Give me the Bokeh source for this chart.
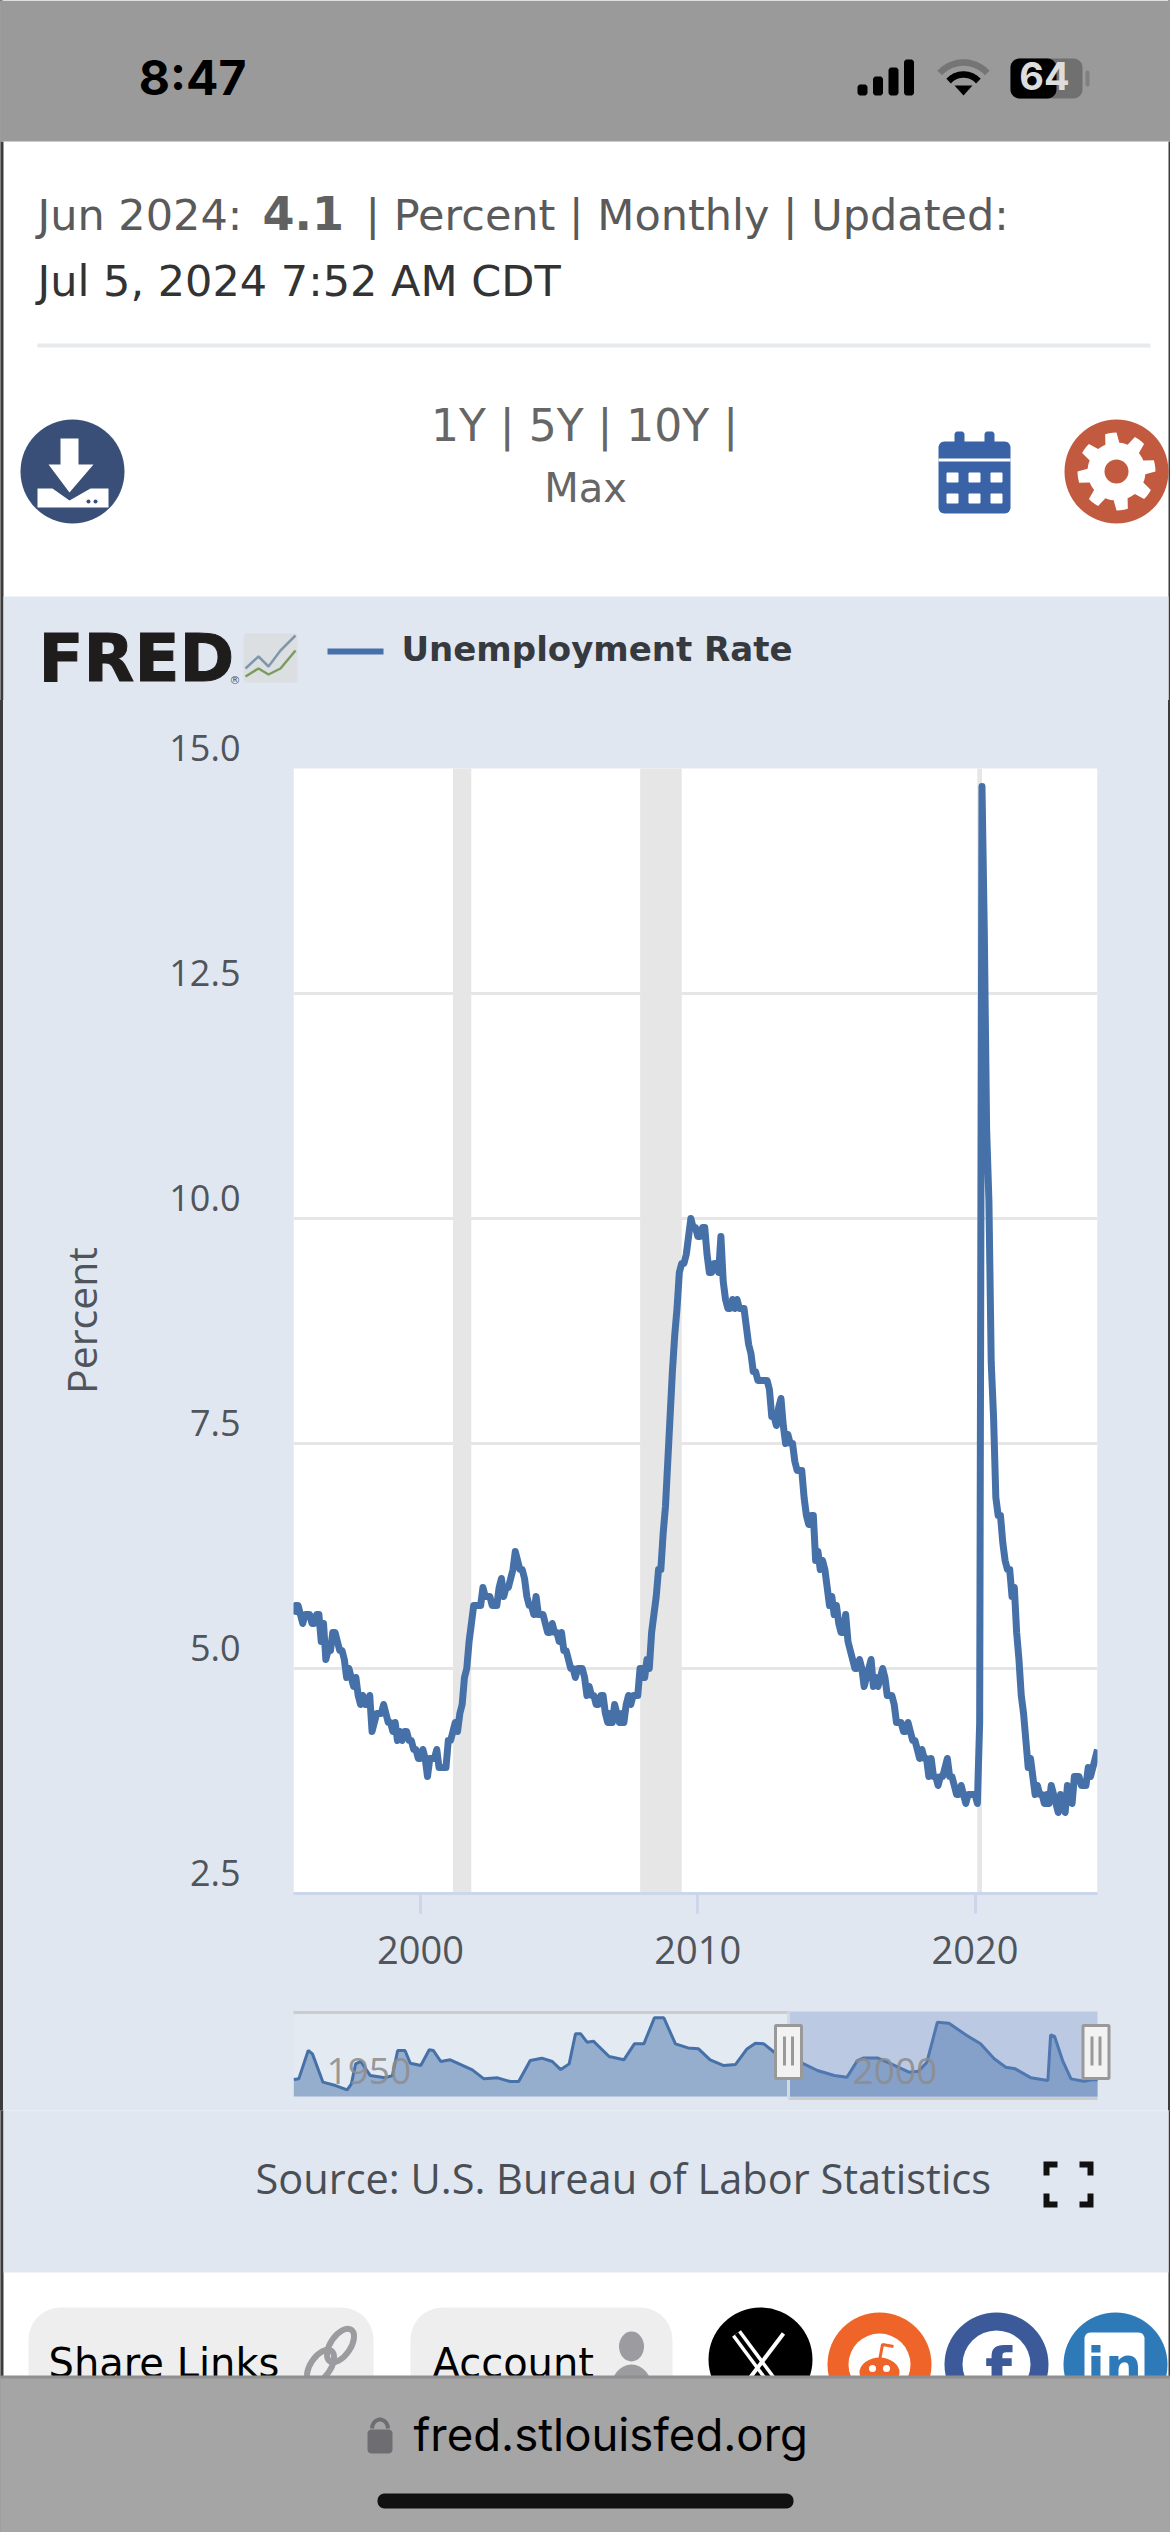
import numpy as np
from bokeh.core.properties import value
from bokeh.embed import file_html
from bokeh.layouts import column
from bokeh.models import FixedTicker, Grid, LinearAxis, NumeralTickFormatter, Range1d
from bokeh.plotting import figure
from bokeh.resources import INLINE

# ---- data ----
start_year = 1995
start_month = 6
unrate = [
    5.6, 5.7, 5.7, 5.6, 5.5, 5.6, 5.6,
    5.6, 5.5, 5.5, 5.6, 5.6, 5.3, 5.5, 5.1, 5.2, 5.2, 5.4, 5.4,
    5.3, 5.2, 5.2, 5.1, 4.9, 5.0, 4.9, 4.8, 4.9, 4.7, 4.6, 4.7,
    4.6, 4.6, 4.7, 4.3, 4.4, 4.5, 4.5, 4.5, 4.6, 4.5, 4.4, 4.4,
    4.3, 4.4, 4.2, 4.3, 4.2, 4.3, 4.3, 4.2, 4.2, 4.1, 4.1, 4.0,
    4.0, 4.1, 4.0, 3.8, 4.0, 4.0, 4.0, 4.1, 3.9, 3.9, 3.9, 3.9,
    4.2, 4.2, 4.3, 4.4, 4.3, 4.5, 4.6, 4.9, 5.0, 5.3, 5.5, 5.7,
    5.7, 5.7, 5.7, 5.9, 5.8, 5.8, 5.8, 5.7, 5.7, 5.7, 5.9, 6.0,
    5.8, 5.9, 5.9, 6.0, 6.1, 6.3, 6.2, 6.1, 6.1, 6.0, 5.8, 5.7,
    5.7, 5.6, 5.8, 5.6, 5.6, 5.6, 5.5, 5.4, 5.4, 5.5, 5.4, 5.4,
    5.3, 5.4, 5.2, 5.2, 5.1, 5.0, 5.0, 4.9, 5.0, 5.0, 5.0, 4.9,
    4.7, 4.8, 4.7, 4.7, 4.6, 4.6, 4.7, 4.7, 4.5, 4.4, 4.5, 4.4,
    4.6, 4.5, 4.4, 4.5, 4.4, 4.6, 4.7, 4.6, 4.7, 4.7, 4.7, 5.0,
    5.0, 4.9, 5.1, 5.0, 5.4, 5.6, 5.8, 6.1, 6.1, 6.5, 6.8, 7.3,
    7.8, 8.3, 8.7, 9.0, 9.4, 9.5, 9.5, 9.6, 9.8, 10.0, 9.9, 9.9,
    9.8, 9.8, 9.9, 9.9, 9.6, 9.4, 9.4, 9.5, 9.5, 9.4, 9.8, 9.3,
    9.1, 9.0, 9.0, 9.1, 9.0, 9.1, 9.0, 9.0, 9.0, 8.8, 8.6, 8.5,
    8.3, 8.3, 8.2, 8.2, 8.2, 8.2, 8.2, 8.1, 7.8, 7.8, 7.7, 7.9,
    8.0, 7.7, 7.5, 7.6, 7.5, 7.5, 7.3, 7.2, 7.2, 7.2, 6.9, 6.7,
    6.6, 6.7, 6.7, 6.2, 6.3, 6.1, 6.2, 6.1, 5.9, 5.7, 5.8, 5.6,
    5.7, 5.5, 5.4, 5.4, 5.6, 5.3, 5.2, 5.1, 5.0, 5.0, 5.1, 5.0,
    4.8, 4.9, 5.0, 5.1, 4.8, 4.9, 4.8, 4.9, 5.0, 4.9, 4.7, 4.7,
    4.7, 4.6, 4.4, 4.4, 4.4, 4.3, 4.3, 4.4, 4.3, 4.2, 4.2, 4.1,
    4.0, 4.1, 4.0, 4.0, 3.8, 4.0, 3.8, 3.8, 3.7, 3.8, 3.8, 3.9,
    4.0, 3.8, 3.8, 3.7, 3.6, 3.6, 3.7, 3.6, 3.5, 3.6, 3.6, 3.6,
    3.6, 3.5, 4.4, 14.8, 13.2, 11.0, 10.2, 8.4, 7.8, 6.9, 6.7, 6.7,
    6.4, 6.2, 6.1, 6.1, 5.8, 5.9, 5.4, 5.1, 4.7, 4.5, 4.2, 3.9,
    4.0, 3.8, 3.6, 3.7, 3.6, 3.6, 3.5, 3.6, 3.5, 3.7, 3.6, 3.5,
    3.4, 3.6, 3.5, 3.4, 3.7, 3.6, 3.5, 3.8, 3.8, 3.8, 3.7, 3.7,
    3.7, 3.9, 3.8, 3.9, 4.0, 4.1,
]
recession_start = [2001.17, 2007.92, 2020.08]
recession_end = [2001.83, 2009.42, 2020.25]
y_ticks = [2.5, 5.0, 7.5, 10.0, 12.5, 15.0]
x_ticks = [2000, 2010, 2020]
y_title = "Percent"

nav_years = [1948.03, 1948.5, 1949.4, 1949.8, 1950.8, 1952.0, 1953.1, 1953.5, 1953.9, 1954.4, 1955.3, 1956.7,
             1957.4, 1957.9, 1958.6, 1959.1, 1960.1, 1960.9, 1961.3, 1962.0, 1962.9, 1965.0, 1966.1, 1967.4,
             1968.6, 1969.4, 1970.5, 1971.6, 1972.6, 1973.4, 1974.2, 1974.8, 1975.3, 1975.9, 1976.5, 1978.0,
             1979.4, 1980.4, 1981.3, 1982.3, 1983.2, 1984.3, 1985.5, 1986.5, 1987.6, 1988.9, 1990.0, 1991.1,
             1991.9, 1992.7, 1993.7, 1996.5, 1997.8, 1999.4, 2000.6, 2001.6, 2002.2, 2003.5, 2004.8, 2006.5,
             2007.4, 2008.2, 2009.2, 2010.3, 2012.0, 2013.3, 2014.6, 2015.7, 2016.6, 2018.1, 2019.7, 2019.96,
             2020.34, 2021.1, 2021.9, 2023.1, 2023.9, 2024.42]
nav_vals = [3.92, 3.99, 7.07, 6.71, 3.63, 3.26, 2.79, 3.45, 5.62, 5.88, 4.35, 4.1,
            4.35, 7.07, 7.07, 5.69, 5.44, 7.15, 7.07, 5.88, 6.06, 4.97, 3.99, 4.1,
            3.7, 3.7, 5.98, 6.24, 5.88, 5.0, 5.62, 8.89, 8.89, 7.98, 8.09, 6.42,
            6.06, 7.8, 7.8, 10.63, 10.63, 7.8, 7.36, 7.26, 6.06, 5.44, 5.55, 7.25,
            7.87, 7.8, 6.89, 5.62, 4.9, 4.35, 4.17, 5.98, 6.27, 6.27, 5.62, 4.72,
            4.82, 5.8, 10.16, 10.05, 8.7, 7.8, 6.17, 5.26, 5.08, 4.1, 3.81, 8.78,
            8.6, 5.98, 3.99, 3.74, 3.88, 3.9]
nav_tick_years = [1950, 2000]

# ---- colours / fonts ----
BLUE_BG = "#e1e7f1"
LINE = "#4671a8"
DJ = "DejaVu Sans"
OS = "Open Sans"
IN = "Inter"
PAGE_W = 1170
EDGE = "#3c3c3c"
EDGE_L, EDGE_R = 3, 2
TEXT_RAISE = 0.37  # Bokeh's text box sits this fraction of the size under the given baseline


def page_fig(top, bottom, bg="white"):
    f = figure(width=PAGE_W, height=bottom - top, x_range=Range1d(0, PAGE_W), y_range=Range1d(bottom, top),
               x_axis_location=None, y_axis_location=None, toolbar_location=None, output_backend="svg",
               background_fill_color=bg, border_fill_color=bg, outline_line_color=None, min_border=0,
               frame_align=False)
    f.grid.visible = False
    return f


def txt(f, x, y, s, size, color, font=DJ, style="normal", align="left", alpha=1.0, **kw):
    f.text(x=[x], y=[y - TEXT_RAISE * size], text=[s], text_font=value(font), text_font_size=f"{size}px",
           text_color=color, text_font_style=style, text_align=align, text_baseline="alphabetic", text_alpha=alpha, **kw)


def rrect(x0, y0, x1, y1, r):
    t = np.linspace(0, np.pi / 2, 8)
    xs = np.concatenate([x1 - r + r * np.sin(t), x1 - r + r * np.cos(t), x0 + r - r * np.sin(t), x0 + r - r * np.cos(t)])
    ys = np.concatenate([y0 + r - r * np.cos(t), y1 - r + r * np.sin(t), y1 - r + r * np.cos(t), y0 + r - r * np.sin(t)])
    return xs, ys


def box(f, x0, y0, x1, y1, color, r=0.0, **kw):
    xs, ys = rrect(x0, y0, x1, y1, r) if r else ([x0, x1, x1, x0], [y0, y0, y1, y1])
    f.patch(xs, ys, fill_color=color, line_color=None, **kw)


def disc(f, x, y, r, color):
    f.circle(x=[x], y=[y], radius=r, fill_color=color, line_color=None)


# ---- header ----
a = page_fig(0, 700)
box(a, 0, 141, EDGE_L, 710, EDGE)
box(a, PAGE_W - EDGE_R, 141, PAGE_W, 710, EDGE)
box(a, 0, 0, PAGE_W, 141, "#9a9a9a")
txt(a, 192, 95, "8:47", 48, "#000000", IN, "bold", "center")
for i, h in enumerate([11, 19, 28, 36]):
    box(a, 857 + i * 15.5, 95 - h, 867 + i * 15.5, 95, "#000000", 3)
# wifi
for rad, col in [(32, "#757575"), (20, "#000000")]:
    t = np.linspace(np.radians(-138), np.radians(-42), 20)
    a.line(963 + rad * np.cos(t), 94 + rad * np.sin(t), line_color=col, line_width=6.5)
a.patch([963, 954, 972], [95, 85, 85], fill_color="#000000", line_color=None)
# battery
box(a, 1010, 58, 1082, 98, "#707070", 9)
box(a, 1010, 58, 1056, 98, "#000000", 9)
box(a, 1085, 70, 1089, 86, "#808080", 2)
txt(a, 1044, 90, "64", 38, "#dddddd", IN, "bold", "center")

txt(a, 37, 230, "Jun 2024:", 43, "#5a5a5a")
txt(a, 262, 230, "4.1", 46, "#616161", DJ, "bold")
txt(a, 365, 230, "| Percent | Monthly | Updated:", 43, "#5a5a5a")
txt(a, 37, 296, "Jul 5, 2024 7:52 AM CDT", 43, "#333333")
box(a, 37, 343, 1150, 347, "#e6eaec")

txt(a, 584, 441, "1Y | 5Y | 10Y |", 44, "#666666", DJ, "normal", "center")
txt(a, 585, 502, "Max", 40, "#666666", DJ, "normal", "center")

# download icon
disc(a, 72, 471, 52, "#3a4f78")
a.patch([60, 78, 78, 93, 69, 48, 60], [438, 438, 464, 464, 492, 464, 464], fill_color="white", line_color=None)
a.patch([37, 52, 69, 90, 108, 108, 37], [488, 488, 500, 488, 488, 507, 507], fill_color="white", line_color=None)
a.circle(x=[88, 95], y=[501, 501], radius=2, fill_color="#3a4f78", line_color=None)

# calendar
box(a, 938, 441, 1010, 513, "#3a62a6", 6)
box(a, 954, 431, 964, 445, "#3a62a6", 3)
box(a, 984, 431, 994, 445, "#3a62a6", 3)
box(a, 938, 458, 1010, 461, "white")
for cx in (952, 974, 996):
    for cy in (477, 498):
        box(a, cx - 6, cy - 5, cx + 6, cy + 5, "white", 1)

# gear
disc(a, 1116, 471, 52, "#c25a3f")
ang = np.linspace(0, 2 * np.pi, 8 * 8, endpoint=False)
rad = np.where((np.floor(ang / (np.pi / 4) + 0.25) * (np.pi / 4) - ang + 2 * np.pi) % (np.pi / 4) < np.pi / 8.5, 39, 29)
a.patch(1116 + rad * np.cos(ang), 471 + rad * np.sin(ang), fill_color="white", line_color=None)
disc(a, 1116, 471, 12, "#c25a3f")

# blue panel with logo + legend
box(a, EDGE_L, 596, PAGE_W - EDGE_R, 710, BLUE_BG)
txt(a, 38, 682, "FRED", 66, "#1f1c1c", DJ, "bold", text_outline_color="#1f1c1c")
txt(a, 229, 684, "®", 11, "#555555", DJ)
box(a, 243, 633, 297, 682, "#dcdfe2", 3)
a.line([245, 258, 268, 280, 295], [668, 656, 666, 650, 635], line_color="#7f97ad", line_width=2.5)
a.line([245, 258, 268, 280, 295], [676, 668, 674, 668, 650], line_color="#7c9c5e", line_width=2.5)
box(a, 327, 648, 383, 654, LINE)
txt(a, 401, 661, "Unemployment Rate", 34, "#36393e", DJ, "bold")

# ---- main chart ----
PX_PER_UNIT = 90.0
lift = 21 / PX_PER_UNIT  # the labels sit 21px above their grid lines
x_vals = [start_year + (start_month - 1 + i) / 12 for i in range(len(unrate))]
x0, x1 = x_vals[0], x_vals[-1]

p = figure(frame_width=804, frame_height=1146, width=PAGE_W - EDGE_L - EDGE_R, height=1285,
           x_range=Range1d(x0, x1), y_range=Range1d(y_ticks[0], y_ticks[-1] + lift),
           x_axis_location="below", y_axis_location=None, toolbar_location=None, output_backend="svg",
           background_fill_color=BLUE_BG, border_fill_color=BLUE_BG, outline_line_color=None,
           min_border_left=293 - EDGE_L, min_border_right=73 - EDGE_R, min_border_top=47, min_border_bottom=92,
           frame_align=False, margin=(0, EDGE_R, 0, EDGE_L))
p.grid.visible = False
p.quad(left=[x0], right=[x1], bottom=[y_ticks[0]], top=[y_ticks[-1]], fill_color="white", line_color=None, level="image")
p.add_layout(Grid(dimension=1, ticker=FixedTicker(ticks=y_ticks[1:5]), grid_line_color="#e6e6e6", grid_line_width=3,
                  level="underlay"))
p.quad(left=recession_start, right=recession_end, bottom=y_ticks[0], top=y_ticks[-1],
       fill_color="#e6e6e6", line_color=None)
p.line(x_vals, unrate, line_color=LINE, line_width=7, line_join="round")

xa = p.xaxis[0]
xa.ticker = FixedTicker(ticks=x_ticks)
xa.major_label_text_font = OS
xa.major_label_text_font_size = "38px"
xa.major_label_text_color = "#50555b"
xa.major_label_standoff = 22
xa.major_tick_out = 20
xa.major_tick_in = 0
xa.minor_tick_line_color = None
xa.major_tick_line_color = "#ccd6eb"
xa.major_tick_line_width = 3
xa.axis_line_color = "#ccd6eb"
xa.axis_line_width = 3

p.extra_y_ranges = {"labels": Range1d(y_ticks[0] - lift, y_ticks[-1])}
ya = LinearAxis(y_range_name="labels", ticker=FixedTicker(ticks=y_ticks), axis_label=y_title)
ya.formatter = NumeralTickFormatter(format="0.0")
ya.major_label_text_font = OS
ya.major_label_text_font_size = "36px"
ya.major_label_text_color = "#50555b"
ya.major_label_standoff = 53
ya.major_tick_in = 0
ya.major_tick_out = 0
ya.minor_tick_line_color = None
ya.major_tick_line_color = None
ya.axis_line_color = None
ya.axis_label_text_font = OS
ya.axis_label_text_font_size = "41px"
ya.axis_label_text_font_style = "normal"
ya.axis_label_text_color = "#50555b"
ya.axis_label_standoff = 57
p.add_layout(ya, "left")

# ---- navigator ----
NAV_TOP, NAV_BOT = 1985, 2110
YEAR_PX = 804 / (x1 - 1948)
VAL_PX = 9.19
px2yr = lambda px: 1948 + (px - 293) / YEAR_PX
py2val = lambda py: 2.07 + (2096 - py) / VAL_PX
n = figure(width=PAGE_W - EDGE_L - EDGE_R, height=NAV_BOT - NAV_TOP, x_range=Range1d(px2yr(EDGE_L), px2yr(PAGE_W - EDGE_R)),
           y_range=Range1d(py2val(NAV_BOT), py2val(NAV_TOP)), x_axis_location=None, y_axis_location=None,
           toolbar_location=None, output_backend="svg", background_fill_color=BLUE_BG, border_fill_color=BLUE_BG,
           outline_line_color=None, min_border=0, frame_align=False, margin=(0, EDGE_R, 0, EDGE_L))
n.grid.visible = False
n_base = py2val(2096)
sel0 = px2yr(788)
n.quad(left=[1948], right=[sel0], bottom=[n_base], top=[py2val(2012)], fill_color="white", fill_alpha=0.12, line_color=None)
n.varea(x=nav_years, y1=[n_base] * len(nav_years), y2=nav_vals, fill_color=LINE, fill_alpha=0.5)
n.line(nav_years, nav_vals, line_color=LINE, line_width=3)
n.quad(left=[sel0], right=[x1], bottom=[py2val(2098)], top=[py2val(2011)], fill_color="#6685c2", fill_alpha=0.3,
       line_color=None)
n.line([1948, sel0], [py2val(2012)] * 2, line_color="#cccccc", line_width=3)
n.line([sel0, x1], [py2val(2098)] * 2, line_color="#cccccc", line_width=3)
n.line([sel0, sel0], [py2val(2012), py2val(2098)], line_color="#d5d9e0", line_width=3)
n.text(x=nav_tick_years, y=[py2val(2070)] * 2, text=[str(v) for v in nav_tick_years], x_offset=12,
       text_font=value(OS), text_font_size="37px", text_color="#8d8d8d", text_alpha=0.9, text_baseline="alphabetic")
for cx in (788, 1095.5):
    n.quad(left=[px2yr(cx - 13)], right=[px2yr(cx + 13)], bottom=[py2val(2078)], top=[py2val(2025)],
           fill_color="#f2f2f2", line_color="#999999", line_width=3)
    for dx in (-4, 4):
        n.line([px2yr(cx + dx)] * 2, [py2val(2036), py2val(2065)], line_color="#999999", line_width=3)

# ---- footer ----
d = page_fig(2110, 2532)
box(d, 0, 2100, EDGE_L, 2376, EDGE)
box(d, PAGE_W - EDGE_R, 2100, PAGE_W, 2376, EDGE)
box(d, EDGE_L, 2100, PAGE_W - EDGE_R, 2272, BLUE_BG)
txt(d, 255, 2193, "Source: U.S. Bureau of Labor Statistics", 41.5, "#4a4f56", OS)
for cx, cy, sx, sy in [(1046, 2164, 1, 1), (1090, 2164, -1, 1), (1046, 2204, 1, -1), (1090, 2204, -1, -1)]:
    d.line([cx, cx, cx + sx * 11], [cy + sy * 11, cy, cy], line_color="#111111", line_width=6, line_join="miter")

box(d, 28, 2307, 373, 2420, "#eeeeee", 32)
box(d, 410, 2307, 672, 2420, "#eeeeee", 32)
txt(d, 48, 2377, "Share Links", 40, "#000000")
txt(d, 432, 2377, "Account", 40, "#000000")
d.ellipse(x=[320, 340], y=[2366, 2345], width=20, height=38, angle=-0.6, fill_color=None, line_color="#9b9ba0", line_width=6)
d.ellipse(x=[631], y=[2346], width=25, height=30, fill_color="#9b9ba0", line_color=None)
d.ellipse(x=[631], y=[2390], width=42, height=52, fill_color="#9b9ba0", line_color=None)

disc(d, 760, 2359, 52, "#000000")
d.line([736, 782], [2333, 2395], line_color="white", line_width=11)
d.line([736, 782], [2333, 2395], line_color="#000000", line_width=4)
d.line([783, 736], [2333, 2395], line_color="white", line_width=4)

disc(d, 879, 2364, 52, "#ef6529")
disc(d, 879, 2364, 31, "white")
d.ellipse(x=[879], y=[2372], width=40, height=30, fill_color="#ef6529", line_color=None)
d.line([879, 882, 893], [2360, 2344, 2346], line_color="#ef6529", line_width=3)
d.circle(x=[872, 886], y=[2368, 2368], radius=3.5, fill_color="white", line_color=None)

disc(d, 996, 2364, 52, "#3c5a99")
disc(d, 996, 2364, 34, "white")
txt(d, 998, 2393, "f", 62, "#3c5a99", DJ, "bold", "center")

disc(d, 1115, 2364, 52, "#2e7ab8")
box(d, 1084, 2332, 1144, 2400, "white", 6)
txt(d, 1114, 2385, "in", 52, "#2e7ab8", DJ, "bold", "center")

box(d, 0, 2376, PAGE_W, 2540, "#a5a5a5")
box(d, 0, 2375, PAGE_W, 2378, "#8f8f8f")
box(d, 367, 2429, 392, 2453, "#6e6e72", 4)
t = np.linspace(np.pi, 2 * np.pi, 12)
d.line(379.5 + 8 * np.cos(t), 2428 + 9 * np.sin(t), line_color="#6e6e72", line_width=4)
txt(d, 413, 2451, "fred.stlouisfed.org", 45.5, "#000000", IN)
box(d, 377, 2493, 793, 2508, "#111111", 7)

edge_bg = (f"linear-gradient(to right, {EDGE} {EDGE_L}px, {BLUE_BG} {EDGE_L}px, "
           f"{BLUE_BG} calc(100% - {EDGE_R}px), {EDGE} calc(100% - {EDGE_R}px))")
page = column(a, p, n, d, spacing=0, styles={"background": edge_bg})
open("out.html", "w").write(file_html(page, INLINE))
